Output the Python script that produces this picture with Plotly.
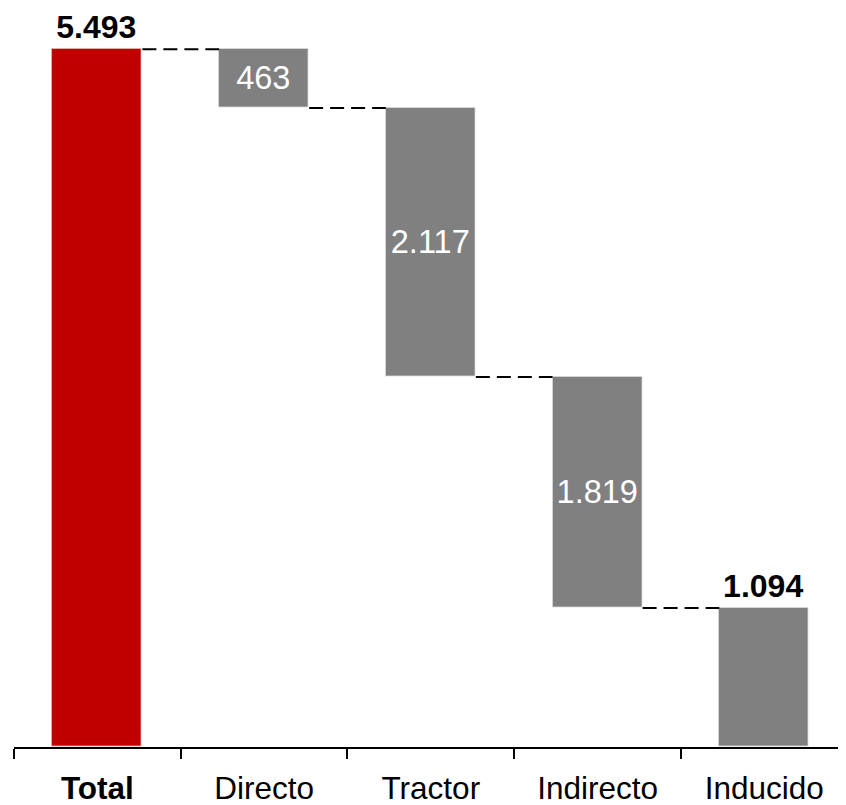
import plotly.graph_objects as go

categories = ["Total", "Directo", "Tractor", "Indirecto", "Inducido"]
values = [5493, 463, 2117, 1819, 1094]
tick_labels = ["<b>Total</b>", "Directo", "Tractor", "Indirecto", "Inducido"]

RED = "#C00000"
GRAY = "#808080"
FONT = "Liberation Sans, Arial, sans-serif"
BAR_W = 0.54


def fmt(v):
    return format(v, ",").replace(",", ".")


# bases: total from 0, then each component steps down from the previous level
bases = [0]
level = values[0]
for v in values[1:]:
    level -= v
    bases.append(level)
tops = [b + v for b, v in zip(bases, values)]

texts = []
positions = []
for i, v in enumerate(values):
    if i == 0 or i == len(values) - 1:
        texts.append(f"<b>{fmt(v)}</b>")
        positions.append("outside")
    else:
        texts.append(fmt(v))
        positions.append("inside")

colors = [RED] + [GRAY] * (len(values) - 1)

fig = go.Figure()
fig.add_trace(go.Bar(
    x=categories,
    y=values,
    base=bases,
    width=BAR_W,
    marker=dict(color=colors, line=dict(color="rgba(255,255,255,0.55)", width=1.5)),
    text=texts,
    textposition=positions,
    insidetextanchor="middle",
    insidetextfont=dict(family=FONT, size=32.5, color="white"),
    outsidetextfont=dict(family=FONT, size=32, color="black"),
    textangle=0,
    cliponaxis=False,
    hoverinfo="skip",
))

# dashed connectors between consecutive bars at the shared level
for i in range(len(values) - 1):
    lvl = tops[i + 1]
    fig.add_shape(
        type="line", xref="x", yref="y",
        x0=i + BAR_W / 2, x1=i + 1 - BAR_W / 2, y0=lvl, y1=lvl,
        line=dict(color="black", width=2, dash="14px,7px"),
        layer="above",
    )

# page body adds an 8px margin, so the figure is 8px smaller on each axis
fig.update_layout(
    width=838, height=797,
    margin=dict(l=5.5, r=0, t=0, b=57.5, autoexpand=False),
    paper_bgcolor="white", plot_bgcolor="white",
    showlegend=False,
    bargap=0,
    font=dict(family=FONT, size=31, color="black"),
    xaxis=dict(
        type="category",
        categoryorder="array", categoryarray=categories,
        tickmode="array", tickvals=categories, ticktext=tick_labels,
        tickson="boundaries",
        range=[-0.5, 4.49],
        automargin=False,
        showline=True, linecolor="black", linewidth=2,
        ticks="outside", ticklen=10, tickwidth=2, tickcolor="black",
        ticklabelstandoff=12,
        showgrid=False, zeroline=False,
        tickfont=dict(family=FONT, size=31.5, color="black"),
    ),
    yaxis=dict(
        range=[0, 5818],
        automargin=False,
        visible=False, showgrid=False, zeroline=False,
    ),
)

fig.write_html("out.html")
